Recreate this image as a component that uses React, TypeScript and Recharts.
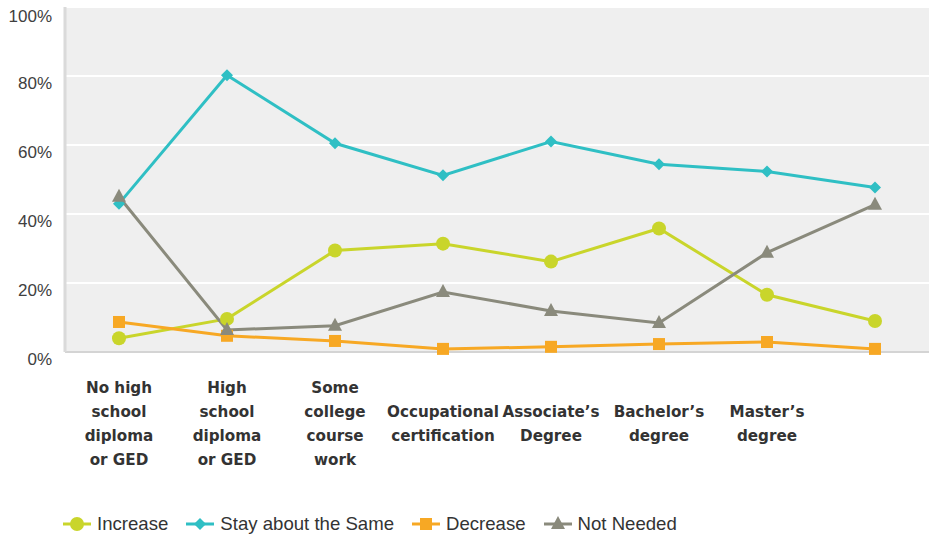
import React from "react";
import {
  ComposedChart,
  Line,
  XAxis,
  YAxis,
  CartesianGrid,
  Legend,
} from "recharts";

// education levels (x categories), "\n" marks the line breaks in the tick labels
const categories = [
  "No high\nschool\ndiploma\nor GED",
  "High\nschool\ndiploma\nor GED",
  "Some\ncollege\ncourse\nwork",
  "Occupational\ncertification",
  "Associate’s\nDegree",
  "Bachelor’s\ndegree",
  "Master’s\ndegree",
  "",
];

const increase = [4, 9.6, 29.4, 31.4, 26.2, 35.8, 16.6, 9];
const staySame = [43, 80.2, 60.5, 51.2, 61, 54.4, 52.3, 47.7];
const decrease = [8.7, 4.7, 3.2, 0.9, 1.5, 2.3, 2.9, 0.9];
const notNeeded = [45, 6.4, 7.6, 17.4, 11.9, 8.4, 28.8, 42.7];

const yTicks = [0, 20, 40, 60, 80, 100];

const data = categories.map((c, i) => ({
  name: c,
  increase: increase[i],
  stay: staySame[i],
  decrease: decrease[i],
  notNeeded: notNeeded[i],
}));

const FONT = "'Liberation Sans', Arial, sans-serif";
const BOLD_FONT = "'DejaVu Sans', sans-serif";

const series = [
  { key: "increase", label: "Increase", color: "#c9d52b", shape: "circle" },
  { key: "stay", label: "Stay about the Same", color: "#2fbfc4", shape: "diamond" },
  { key: "decrease", label: "Decrease", color: "#f7a824", shape: "square" },
  { key: "notNeeded", label: "Not Needed", color: "#8a8a7c", shape: "triangle" },
];

function Marker({ cx, cy, shape, color }: any) {
  if (cx == null || cy == null) return null;
  if (shape === "circle") return <circle cx={cx} cy={cy} r={7} fill={color} />;
  if (shape === "diamond")
    return (
      <polygon
        points={`${cx},${cy - 6} ${cx + 6},${cy} ${cx},${cy + 6} ${cx - 6},${cy}`}
        fill={color}
      />
    );
  if (shape === "square")
    return <rect x={cx - 6} y={cy - 6} width={12} height={12} fill={color} />;
  return (
    <polygon
      points={`${cx},${cy - 8} ${cx + 7},${cy + 5} ${cx - 7},${cy + 5}`}
      fill={color}
    />
  );
}

function XTick({ x, y, payload }: any) {
  const lines = String(payload.value).split("\n").filter((s) => s);
  const off = (4 - lines.length) / 2;
  return (
    <g>
      {lines.map((l, i) => (
        <text
          key={i}
          x={x}
          y={y + 33 + (i + off) * 24}
          textAnchor="middle"
          fontFamily={BOLD_FONT}
          fontWeight="bold"
          fontSize={15.2}
          fill="#333"
        >
          {l}
        </text>
      ))}
    </g>
  );
}

function YTick({ x, y, payload }: any) {
  return (
    <text
      x={x}
      y={y + 13}
      textAnchor="end"
      fontFamily={FONT}
      fontSize={17}
      fill="#404040"
    >
      {payload.value + "%"}
    </text>
  );
}

function LegendContent() {
  return (
    <div
      style={{
        display: "flex",
        alignItems: "center",
        paddingLeft: 63,
        fontFamily: FONT,
        fontSize: 18.6,
        color: "#333",
        height: 26,
      }}
    >
      {series.map((s) => (
        <div key={s.key} style={{ display: "flex", alignItems: "center", marginRight: 18 }}>
          <svg width={28} height={20} style={{ marginRight: 6 }}>
            <line x1={0} y1={10} x2={28} y2={10} stroke={s.color} strokeWidth={3} />
            <Marker cx={14} cy={10} shape={s.shape} color={s.color} />
          </svg>
          <span>{s.label}</span>
        </div>
      ))}
    </div>
  );
}

export default function App() {
  return (
    <div style={{ position: "absolute", left: 0, top: 0, width: 931, height: 537, background: "#fff" }}>
      <ComposedChart
        width={931}
        height={537}
        data={data}
        margin={{ top: 7, right: 2, left: 0, bottom: 0 }}
      >
        <CartesianGrid
          vertical={false}
          stroke="#ffffff"
          strokeWidth={2}
          fill="#efefef"
        />
        <XAxis
          dataKey="name"
          interval={0}
          height={159}
          padding={{ left: 54, right: 54 }}
          tick={<XTick />}
          tickLine={false}
          axisLine={{ stroke: "#d4d4d4", strokeWidth: 2 }}
        />
        <YAxis
          width={65}
          domain={[0, 100]}
          ticks={yTicks}
          tick={<YTick />}
          tickLine={false}
          tickSize={0}
          tickMargin={13}
          axisLine={{ stroke: "#dadada", strokeWidth: 3 }}
        />
        <Legend verticalAlign="bottom" align="left" content={<LegendContent />} />
        {series.map((s) => (
          <Line
            key={s.key}
            dataKey={s.key}
            name={s.label}
            stroke={s.color}
            strokeWidth={3}
            isAnimationActive={false}
            dot={(p: any) => (
              <Marker key={p.index} cx={p.cx} cy={p.cy} shape={s.shape} color={s.color} />
            )}
            activeDot={false}
          />
        ))}
      </ComposedChart>
    </div>
  );
}
